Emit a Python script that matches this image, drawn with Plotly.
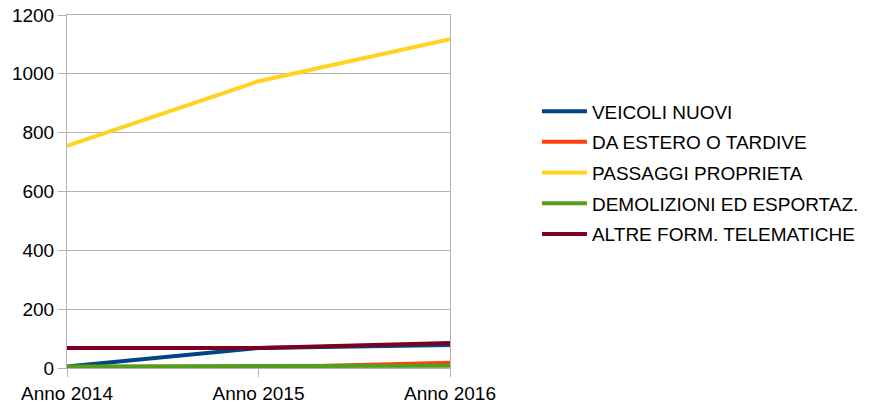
import plotly.graph_objects as go

categories = ["Anno 2014", "Anno 2015", "Anno 2016"]
veicoli_nuovi = [5, 68, 78]
da_estero = [2, 2, 18]
passaggi = [755, 975, 1118]
demolizioni = [5, 5, 8]
altre_form = [68, 68, 85]

series = [
    ("VEICOLI NUOVI", veicoli_nuovi, "#004586"),
    ("DA ESTERO O TARDIVE", da_estero, "#ff420e"),
    ("PASSAGGI PROPRIETA", passaggi, "#ffd320"),
    ("DEMOLIZIONI ED ESPORTAZ.", demolizioni, "#579d1c"),
    ("ALTRE FORM. TELEMATICHE", altre_form, "#7e0021"),
]

fig = go.Figure()
for i, (name, vals, color) in enumerate(series):
    fig.add_trace(go.Scatter(x=categories, y=vals, name=name, mode="lines",
                             legendgroup="g%d" % i,
                             line=dict(color=color, width=4)))

font = dict(family="Liberation Sans, Arial, sans-serif", size=19, color="#000000")
fig.update_layout(
    width=870, height=410,
    margin=dict(l=67, r=420, t=15, b=42, autoexpand=False),
    paper_bgcolor="white", plot_bgcolor="white",
    font=font,
    showlegend=True,
    legend=dict(x=1.227, y=0.553, xanchor="left", yanchor="middle",
                font=font, bgcolor="rgba(0,0,0,0)", tracegroupgap=3,
                itemwidth=45),
    xaxis=dict(type="category", range=[0, 2], showgrid=False,
               ticks="outside", ticklen=8, tickcolor="#b3b3b3",
               showline=True, linecolor="#b3b3b3", mirror=True,
               tickfont=font),
    yaxis=dict(range=[0, 1200], dtick=200, showgrid=True, gridcolor="#b3b3b3",
               ticks="outside", ticklen=8, tickcolor="#b3b3b3",
               showline=True, linecolor="#b3b3b3", mirror=True,
               zeroline=False, tickfont=font),
)
fig.write_html("out.html", config={"displayModeBar": False},
               post_script="document.body.style.margin='0';")
